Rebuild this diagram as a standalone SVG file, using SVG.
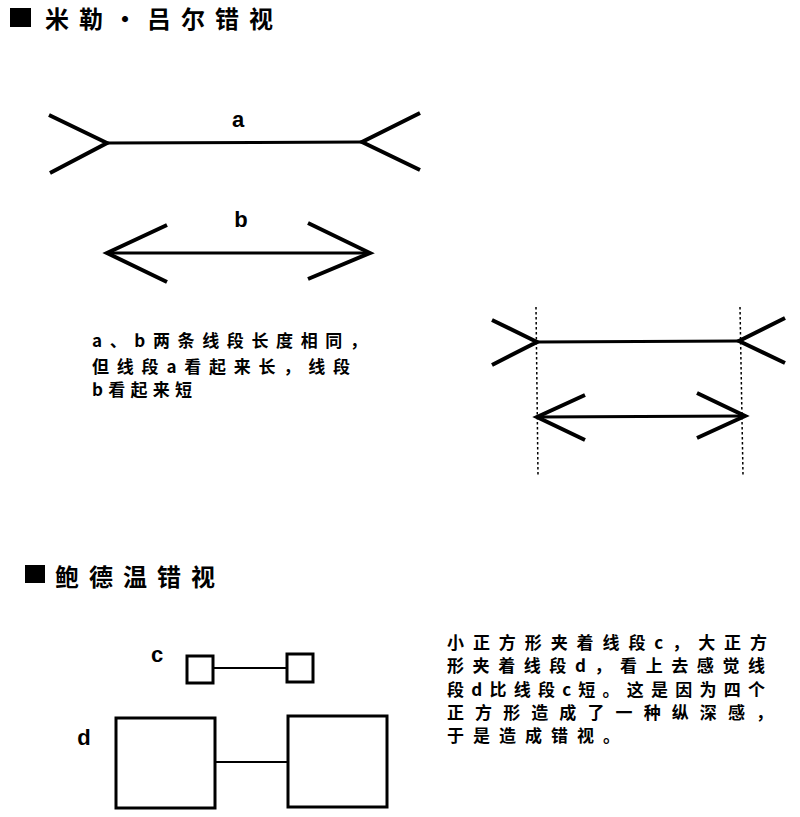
<svg xmlns="http://www.w3.org/2000/svg" width="800" height="817" viewBox="0 0 800 817">
<style>
.title{font-family:"Noto Sans CJK SC","Noto Sans",sans-serif;font-size:24px;font-weight:700;letter-spacing:10px;fill:#000}
.body{font-family:"Noto Sans CJK SC","Noto Sans",sans-serif;font-size:17px;font-weight:700;fill:#000}
.lbl{font-family:"Liberation Sans",Arial,sans-serif;font-size:22px;font-weight:700;fill:#000}
.fin{stroke:#000;stroke-width:4;fill:none;stroke-linecap:butt;stroke-linejoin:miter}
.shaft{stroke:#000;stroke-width:3;fill:none}
.thin{stroke:#000;stroke-width:2;fill:none}
.dot{stroke:#000;stroke-width:1.5;fill:none;stroke-dasharray:2.5 2.5}
.sq{stroke:#000;stroke-width:3;fill:#fff}
</style>
<rect width="800" height="817" fill="#fff"/>

<g id="title1">
<rect x="10" y="8" width="21" height="19" fill="#000"/>
<text class="title" x="45" y="28">米勒・吕尔错视</text>
</g>

<g id="figA">
<text class="lbl" x="238" y="127" text-anchor="middle">a</text>
<polyline class="fin" points="49,115 107,143 50,173"/>
<polyline class="fin" points="420,113 362,142 420,170"/>
</g>

<g id="figB">
<text class="lbl" x="241" y="227" text-anchor="middle">b</text>
<polyline class="fin" points="167,225 107,253 167,282"/>
<polyline class="fin" points="308,223 370,253 308,279"/>
</g>

<g id="text1">
<text class="body" x="92" y="347" textLength="275" lengthAdjust="spacing">a、b两条线段长度相同，</text>
<text class="body" x="92" y="373" textLength="258" lengthAdjust="spacing">但线段a看起来长，线段</text>
<text class="body" x="92" y="396" textLength="100" lengthAdjust="spacing">b看起来短</text>
</g>

<g id="figCompare">
<line class="dot" x1="536" y1="307" x2="538" y2="475"/>
<line class="dot" x1="740" y1="307" x2="743" y2="475"/>
<polyline class="fin" points="492,320 537,342 492,365"/>
<polyline class="fin" points="785,318 739,341 785,363"/>
<polyline class="fin" points="585,395 537,417 585,440"/>
<polyline class="fin" points="697,393 745,416 697,438"/>
</g>

<g id="title2">
<rect x="25" y="565" width="20" height="18" fill="#000"/>
<text class="title" x="55" y="586">鲍德温错视</text>
</g>

<g id="figC">
<text class="lbl" x="157" y="662" text-anchor="middle">c</text>
<rect id="cLeft" class="sq" x="187" y="656" width="26" height="27"/>
<rect id="cRight" class="sq" x="287" y="654" width="26" height="28"/>
</g>

<g id="figD">
<text class="lbl" x="84" y="745" text-anchor="middle">d</text>
<rect id="dLeft" class="sq" x="116" y="718" width="99" height="90"/>
<rect id="dRight" class="sq" x="288" y="716" width="99" height="91"/>
</g>

<g id="text2">
<text class="body" x="447" y="649" textLength="320" lengthAdjust="spacing">小正方形夹着线段c，大正方</text>
<text class="body" x="447" y="672" textLength="318" lengthAdjust="spacing">形夹着线段d，看上去感觉线</text>
<text class="body" x="447" y="696" textLength="318" lengthAdjust="spacing">段d比线段c短。这是因为四个</text>
<text class="body" x="447" y="719" textLength="326" lengthAdjust="spacing">正方形造成了一种纵深感，</text>
<text class="body" x="447" y="742" textLength="173" lengthAdjust="spacing">于是造成错视。</text>
</g>

<g id="connectors">
<line class="shaft" x1="107" y1="143" x2="362" y2="142"/>
<line class="shaft" x1="107" y1="253" x2="370" y2="253"/>
<line class="shaft" x1="537" y1="342" x2="739" y2="341"/>
<line class="shaft" x1="537" y1="417" x2="745" y2="416"/>
<line class="thin" x1="213" y1="668" x2="287" y2="668"/>
<line class="thin" x1="215" y1="762" x2="288" y2="762"/>
</g>
</svg>
